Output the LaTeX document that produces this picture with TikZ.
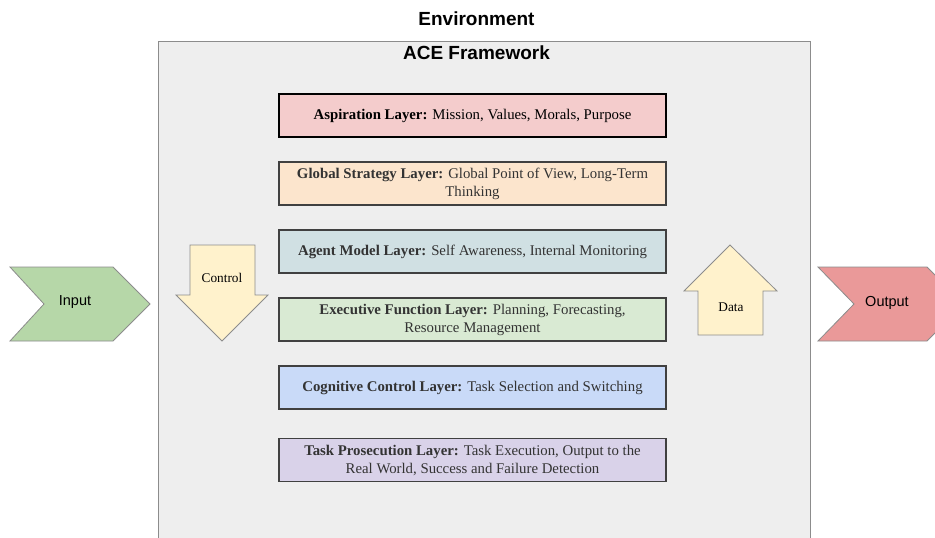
\documentclass[tikz,border=0pt]{standalone}
\usepackage{fontspec}
\setmainfont{Liberation Serif}
\setsansfont{Liberation Sans}
\usetikzlibrary{positioning}
\definecolor{framegray}{HTML}{EEEEEE}
\definecolor{aspiration}{HTML}{F4CCCC}
\definecolor{strategy}{HTML}{FCE5CD}
\definecolor{agentmodel}{HTML}{D0E0E3}
\definecolor{executive}{HTML}{D9EAD3}
\definecolor{cognitive}{HTML}{C9DAF8}
\definecolor{prosecution}{HTML}{D9D2E9}
\definecolor{inputgreen}{HTML}{B6D7A8}
\definecolor{outputred}{HTML}{EA9999}
\definecolor{flowyellow}{HTML}{FFF2CC}

\begin{document}
\begin{tikzpicture}[%
    x = 1pt, y = -1pt,
    node distance = 68pt,
    on grid,
    layer/.style = {%
      draw = black!75,
      line width = 1.5pt,
      minimum width = 387pt,
      minimum height = 43pt,
      inner sep = 0pt,
      align = center,
      font = \fontsize{14.8}{18}\selectfont,
      text = black!80 },
    title/.style = {font = \sffamily\bfseries\fontsize{19}{22}\selectfont},
    chevron/.style = {draw = black!45, line width = 0.8pt},
    flowarrow/.style = {draw = black!45, line width = 0.8pt, fill = flowyellow},
    arrowtext/.style = {font = \fontsize{13.3}{16}\selectfont},
    iotext/.style = {font = \sffamily\fontsize{14.5}{17}\selectfont}
  ]

\clip (0,0) rectangle (935,538);
\fill[white] (0,0) rectangle (935,538);

\draw[draw = black!45, line width = 1pt, fill = framegray] (158,41) rectangle (810,560);
\node[title] (environment) at (476.5,19) {Environment};
\node[title] (ace) at (476.5,53) {ACE Framework};

\node[layer, fill = aspiration, draw = black, text = black] (aspiration) at (472.5,115.5)
  {\textbf{Aspiration Layer:} Mission, Values, Morals, Purpose};
\node[layer, fill = strategy] (strategy) [below=of aspiration]
  {\textbf{Global Strategy Layer:} Global Point of View, Long-Term\\Thinking};
\node[layer, fill = agentmodel] (agentmodel) [below=of strategy]
  {\textbf{Agent Model Layer:} Self Awareness, Internal Monitoring};
\node[layer, fill = executive] (executive) [below=of agentmodel]
  {\textbf{Executive Function Layer:} Planning, Forecasting,\\Resource Management};
\node[layer, fill = cognitive] (cognitive) [below=of executive]
  {\textbf{Cognitive Control Layer:} Task Selection and Switching};
\node[layer, fill = prosecution] (prosecution) [below=72.5pt of cognitive]
  {\textbf{Task Prosecution Layer:} Task Execution, Output to the\\Real World, Success and Failure Detection};

\draw[chevron, fill = inputgreen] (10,267) -- (113,267) -- (150,304) -- (113,341) -- (10,341) -- (44,304) -- cycle;
\node[iotext] (input) at (75,302) {Input};

\draw[chevron, fill = outputred] (818,267) -- (927,267) -- (964,304) -- (927,341) -- (818,341) -- (854,304) -- cycle;
\node[iotext] (output) at (887,303) {Output};

\draw[flowarrow] (190,245) -- (255,245) -- (255,295) -- (268,295) -- (222,341) -- (176,295) -- (190,295) -- cycle;
\node[arrowtext] (control) at (222,278) {Control};

\draw[flowarrow] (730,245) -- (777,291) -- (763,291) -- (763,335) -- (698,335) -- (698,291) -- (684,291) -- cycle;
\node[arrowtext] (data) at (731,307) {Data};

\end{tikzpicture}
\end{document}
